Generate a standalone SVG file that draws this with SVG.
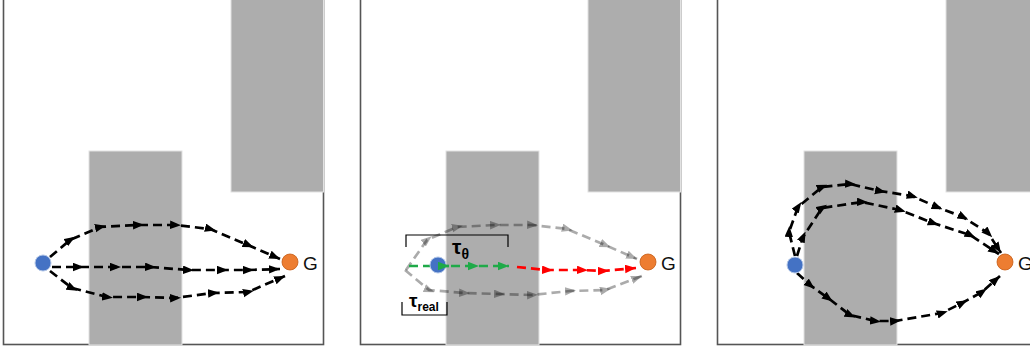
<svg xmlns="http://www.w3.org/2000/svg" width="1030" height="349" viewBox="0 0 1030 349">
<style>
.frame{fill:#fff;stroke:#555;stroke-width:1.6}
.obs{fill:#adadad;stroke:#e2e2e2;stroke-width:1}
.p{fill:none;stroke:#000;stroke-width:2.7;stroke-dasharray:9 5;stroke-linejoin:round}
.pk{marker-mid:url(#am);marker-end:url(#ae)}
.pg{fill:none;stroke:#000;stroke-opacity:0.33;stroke-width:2.7;stroke-dasharray:9 5;marker-mid:url(#gm);marker-end:url(#ge)}
.pgr{fill:none;stroke:#1faa48;stroke-width:2.7;stroke-dasharray:9 5;marker-mid:url(#grm);marker-end:url(#gre)}
.pr{fill:none;stroke:#f00;stroke-width:2.7;stroke-dasharray:9 5;marker-mid:url(#rm);marker-end:url(#re)}
.s{fill:#4472c4;stroke:#b4c7e7;stroke-width:1}
.g{fill:#ed7d31;stroke:#c55a11;stroke-width:0.8}
.t{font-family:"Liberation Sans",Arial,sans-serif;font-size:19px;fill:#111}
.tau{font-family:"Liberation Sans",Arial,sans-serif;font-weight:bold;fill:#000}
.br{fill:none;stroke:#000;stroke-width:1.2}
</style>
<defs>
<marker id="am" markerUnits="userSpaceOnUse" markerWidth="11" markerHeight="9" refX="5" refY="4.25" orient="auto"><path d="M0,0 L11,4.25 L0,8.5 z" fill="#000"/></marker>
<marker id="ae" markerUnits="userSpaceOnUse" markerWidth="11" markerHeight="9" refX="11" refY="4.25" orient="auto"><path d="M0,0 L11,4.25 L0,8.5 z" fill="#000"/></marker>
<marker id="gm" markerUnits="userSpaceOnUse" markerWidth="11" markerHeight="9" refX="5" refY="4.25" orient="auto"><path d="M0,0 L11,4.25 L0,8.5 z" fill="#000" fill-opacity="0.33"/></marker>
<marker id="ge" markerUnits="userSpaceOnUse" markerWidth="11" markerHeight="9" refX="11" refY="4.25" orient="auto"><path d="M0,0 L11,4.25 L0,8.5 z" fill="#000" fill-opacity="0.33"/></marker>
<marker id="grm" markerUnits="userSpaceOnUse" markerWidth="11" markerHeight="9" refX="5" refY="4.25" orient="auto"><path d="M0,0 L11,4.25 L0,8.5 z" fill="#1faa48"/></marker>
<marker id="gre" markerUnits="userSpaceOnUse" markerWidth="11" markerHeight="9" refX="11" refY="4.25" orient="auto"><path d="M0,0 L11,4.25 L0,8.5 z" fill="#1faa48"/></marker>
<marker id="rm" markerUnits="userSpaceOnUse" markerWidth="11" markerHeight="9" refX="5" refY="4.25" orient="auto"><path d="M0,0 L11,4.25 L0,8.5 z" fill="#f00"/></marker>
<marker id="re" markerUnits="userSpaceOnUse" markerWidth="11" markerHeight="9" refX="11" refY="4.25" orient="auto"><path d="M0,0 L11,4.25 L0,8.5 z" fill="#f00"/></marker>
</defs>
<rect width="1030" height="349" fill="#fff"/>

<!-- Panel 1 -->
<g id="panel1">
<rect class="frame" x="3.5" y="-5" width="320" height="349.5"/>
<rect class="obs" x="89" y="151" width="93" height="194"/>
<rect class="obs" x="231" y="-2" width="92.5" height="194"/>
<g id="connectors1">
<path class="p pk" d="M50,257 L70,240 L100,227 L138,225 L175,225 L210,229 L248,245 L280,259"/>
<path class="p pk" d="M52,267 L78,267 L115,267 L150,267 L188,270 L222,270 L248,270 L280,269"/>
<path class="p pk" d="M50,271 L72,288 L107,297 L142,297 L175,298 L213,293 L248,292 L285,276"/>
</g>
<g id="start1"><circle class="s" cx="43" cy="263" r="8"/></g>
<g id="goal1"><circle class="g" cx="290" cy="262" r="8"/><text class="t" x="303" y="270">G</text></g>
</g>

<!-- Panel 2 -->
<g id="panel2" transform="translate(357,0)">
<rect class="frame" x="3.5" y="-5" width="320" height="349.5"/>
<rect class="obs" x="89" y="151" width="93" height="194"/>
<rect class="obs" x="231" y="-2" width="92.5" height="194"/>
<g id="connectors2">
<path class="pg" d="M49,270 L70,240 L100,227 L138,225 L175,225 L210,229 L248,245 L280,259"/>
<path class="pg" d="M48,270 L72,290 L107,293 L142,294 L175,295 L213,291 L248,290 L285,276"/>
<path class="pgr" d="M52,266 L86,266 L116,266 L152,266"/>
<path class="pr" d="M160,267 L190,270 L225,270 L246,271 L279,268"/>
</g>
<g id="start2"><circle class="s" cx="81" cy="265" r="8"/></g>
<path class="pgr" d="M84,266 L92,266" style="marker-mid:none"/>
<g id="goal2"><circle class="g" cx="291" cy="262" r="8"/><text class="t" x="304" y="270">G</text></g>
<g id="tautheta">
<path class="br" d="M49,247 V235 H151 V247"/>
<text class="tau" x="95" y="254" font-size="21">τ<tspan font-size="14" dy="5">θ</tspan></text>
</g>
<g id="taureal">
<path class="br" d="M45,302 V315 H90 V302"/>
<text class="tau" x="52" y="307" font-size="19">τ<tspan font-size="12" dy="4">real</tspan></text>
</g>
</g>

<!-- Panel 3 -->
<g id="panel3" transform="translate(715,0)">
<rect class="frame" x="2.5" y="-5" width="330" height="349.5"/>
<rect class="obs" x="89" y="151" width="93" height="194"/>
<rect class="obs" x="231" y="-2" width="110" height="194"/>
<g id="connectors3">
<path class="p pk" d="M80,256 L74,232 L83,207 L107,187 L135,184 L165,191 L197,196 L222,207 L248,217 L273,233 L286,253"/>
<path class="p pk" d="M82,256 L88,237 L107,208 L147,202 L185,210 L218,223 L255,235 L284,254"/>
<path class="p pk" d="M82,273 L95,285 L113,298 L135,315 L160,321 L180,321 L227,313 L247,303 L267,292 L285,276"/>
</g>
<g id="start3"><circle class="s" cx="80" cy="265" r="8"/></g>
<g id="goal3"><circle class="g" cx="290" cy="262" r="8"/><text class="t" x="303" y="270">G</text></g>
</g>
</svg>
